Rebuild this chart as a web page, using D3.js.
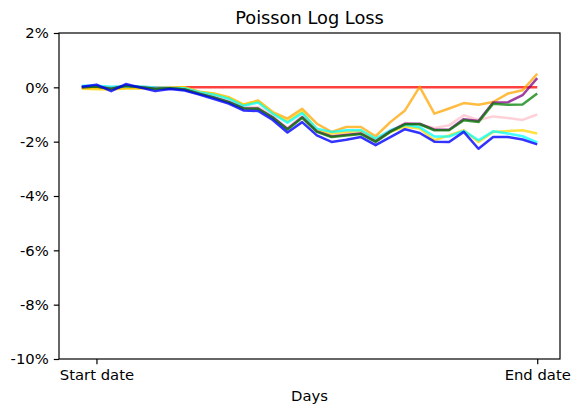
<!DOCTYPE html>
<html>
<head>
<meta charset="utf-8">
<script src="https://cdn.jsdelivr.net/npm/d3@7"></script>
<style>
  html, body { margin: 0; padding: 0; background: #fff; }
  svg { display: block; }
  text { font-family: "DejaVu Sans", sans-serif; fill: #000; }
</style>
</head>
<body>
<svg id="chart" width="574" height="405"></svg>
<script>
// ---- data (values in %) ----
const days = d3.range(32); // 32 observations
const xTickValues = [1, 31];
const xTickLabels = ["Start date", "End date"];
const yTickValues = [2, 0, -2, -4, -6, -8, -10];

const redValues = [0,0,0,0,0,0,0,0,0,0,0,0,0,0,0,0,0,0,0,0,0,0,0,0,0,0,0,0,0,0,0,0];
const orangeValues = [-0.02,-0.03,-0.05,-0.02,-0.02,-0.02,0.0,0.0,-0.16,-0.23,-0.36,-0.64,-0.48,-0.91,-1.15,-0.79,-1.34,-1.64,-1.46,-1.46,-1.80,-1.28,-0.85,0.02,-0.97,-0.78,-0.58,-0.64,-0.54,-0.23,-0.11,0.50];
const pinkValues = [0.03,0.05,0.0,0.07,0.03,-0.01,0.01,-0.05,-0.20,-0.33,-0.50,-0.72,-0.72,-1.05,-1.50,-1.05,-1.60,-1.78,-1.72,-1.68,-1.97,-1.62,-1.31,-1.38,-1.50,-1.40,-1.03,-1.20,-1.07,-1.13,-1.20,-1.00];
const yellowValues = [-0.05,-0.07,-0.08,-0.04,-0.04,-0.03,-0.01,0.0,-0.17,-0.24,-0.38,-0.63,-0.52,-0.94,-1.25,-0.88,-1.58,-1.70,-1.64,-1.60,-1.92,-1.64,-1.45,-1.52,-1.95,-1.77,-1.58,-2.01,-1.64,-1.61,-1.58,-1.70];
const cyanValues = [0.06,0.06,0.02,0.04,0.03,-0.01,-0.02,-0.03,-0.18,-0.27,-0.42,-0.68,-0.56,-0.97,-1.30,-0.95,-1.52,-1.64,-1.58,-1.58,-1.89,-1.58,-1.38,-1.47,-1.81,-1.81,-1.60,-1.95,-1.62,-1.70,-1.80,-2.03];
const purpleValues = [0.0,0.03,-0.05,0.06,0.0,-0.05,-0.03,-0.08,-0.23,-0.37,-0.54,-0.77,-0.78,-1.10,-1.53,-1.10,-1.62,-1.81,-1.75,-1.70,-1.99,-1.62,-1.34,-1.34,-1.56,-1.56,-1.17,-1.24,-0.56,-0.55,-0.29,0.34];
const greenValues = [0.0,0.03,-0.06,0.06,0.0,-0.06,-0.03,-0.08,-0.24,-0.38,-0.55,-0.78,-0.79,-1.12,-1.55,-1.12,-1.64,-1.83,-1.77,-1.72,-2.01,-1.64,-1.36,-1.36,-1.58,-1.58,-1.21,-1.28,-0.60,-0.64,-0.63,-0.23];
const blueValues = [0.02,0.10,-0.14,0.12,-0.01,-0.14,-0.06,-0.12,-0.27,-0.43,-0.60,-0.85,-0.87,-1.20,-1.66,-1.28,-1.77,-2.01,-1.93,-1.83,-2.13,-1.83,-1.54,-1.68,-2.00,-2.01,-1.64,-2.26,-1.83,-1.83,-1.92,-2.10];

const seriesNames = ["red","orange","pink","yellow","cyan","purple","green","blue"];
const seriesColors = ["#ff0000","#ffa500","#ffc0cb","#ffd700","#00ffff","#800080","#008000","#0000ff"];
const seriesOpacity = [0.75, 0.75, 0.75, 0.75, 0.75, 0.75, 0.75, 0.8];
const seriesData = [redValues, orangeValues, pinkValues, yellowValues, cyanValues, purpleValues, greenValues, blueValues];

// ---- layout ----
const svg = d3.select("#chart");
const W = 574, H = 405;
const plot = { left: 59, right: 560, top: 33, bottom: 359 };
svg.append("rect").attr("width", W).attr("height", H).attr("fill", "#fff");

const n = days.length;
const pad = (n - 1) * 0.05;
const x = d3.scaleLinear().domain([-pad, n - 1 + pad]).range([plot.left, plot.right]);
const y = d3.scaleLinear().domain([-10, 2]).range([plot.bottom, plot.top]);

// lines
const line = d3.line().x((d, i) => x(days[i])).y(d => y(d));
const g = svg.append("g");
seriesData.forEach((vals, k) => {
  g.append("path")
    .datum(vals)
    .attr("d", line)
    .attr("fill", "none")
    .attr("stroke", seriesColors[k])
    .attr("stroke-opacity", seriesOpacity[k])
    .attr("stroke-width", 2.5)
    .attr("stroke-linejoin", "round")
    .attr("stroke-linecap", "butt");
});

// axes
const tickLen = 5.2, tickPad = 5, fs = 14.8;
const yAxis = d3.axisLeft(y).tickValues(yTickValues).tickFormat(d => `${d}%`)
  .tickSizeInner(tickLen).tickSizeOuter(0).tickPadding(tickPad);
const gy = svg.append("g").attr("transform", `translate(${plot.left},0)`).call(yAxis);
gy.select(".domain").remove();
gy.selectAll("line").attr("stroke", "#000").attr("stroke-width", 1.2);
gy.selectAll("text").style("font-size", fs + "px").attr("fill", "#000");

const xAxis = d3.axisBottom(x).tickValues(xTickValues).tickFormat((d, i) => xTickLabels[i])
  .tickSizeInner(tickLen).tickSizeOuter(0).tickPadding(tickPad);
const gx = svg.append("g").attr("transform", `translate(0,${plot.bottom})`).call(xAxis);
gx.select(".domain").remove();
gx.selectAll("line").attr("stroke", "#000").attr("stroke-width", 1.2);
gx.selectAll("text").style("font-size", fs + "px").attr("fill", "#000");

// spines
svg.append("rect")
  .attr("x", plot.left).attr("y", plot.top)
  .attr("width", plot.right - plot.left).attr("height", plot.bottom - plot.top)
  .attr("fill", "none").attr("stroke", "#000").attr("stroke-width", 1.2);

// title & label
svg.append("text").attr("x", (plot.left + plot.right) / 2).attr("y", 23.5)
  .attr("text-anchor", "middle").style("font-size", "17.8px").text("Poisson Log Loss");
svg.append("text").attr("x", (plot.left + plot.right) / 2).attr("y", 400.5)
  .attr("text-anchor", "middle").style("font-size", fs + "px").text("Days");
</script>
</body>
</html>
